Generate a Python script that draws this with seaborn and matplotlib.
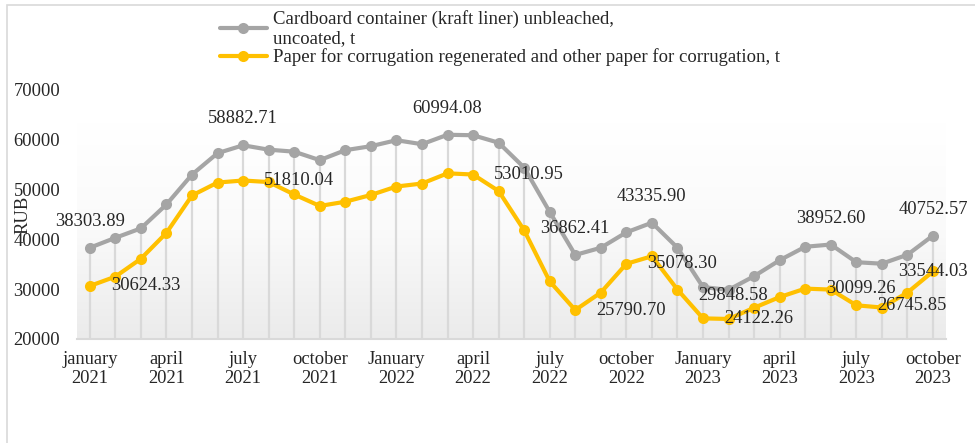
import numpy as np
import pandas as pd
import seaborn as sns
import matplotlib.pyplot as plt
from matplotlib.patches import Rectangle
from matplotlib.colors import LinearSegmentedColormap

# Monthly prices, january 2021 - october 2023 (RUB per t)
months = pd.date_range("2021-01-01", "2023-10-01", freq="MS")
kraft = [38303.89, 40300, 42200, 47000, 53000, 57300, 58882.71, 58000, 57600, 55900,
         57900, 58700, 59900, 59100, 60994.08, 60900, 59400, 54400, 45500, 36862.41,
         38300, 41400, 43335.90, 38300, 30400, 29848.58, 32600, 35800, 38500, 38952.60,
         35400, 35100, 36900, 40752.57]
corrug = [30624.33, 32500, 36100, 41300, 48800, 51400, 51810.04, 51500, 49000, 46700,
          47550, 48900, 50600, 51200, 53250, 53010.95, 49700, 41800, 31550, 25790.70,
          29300, 35078.30, 36600, 29900, 24122.26, 24000, 26250, 28400, 30099.26, 29900,
          26745.85, 26300, 29300, 33544.03]
tick_labels = ["january\n2021", "april\n2021", "july\n2021", "october\n2021",
               "January\n2022", "april\n2022", "july\n2022", "october\n2022",
               "January\n2023", "april\n2023", "july\n2023", "october\n2023"]
name_kraft = "Cardboard container (kraft liner) unbleached,\nuncoated, t"
name_corrug = "Paper for corrugation regenerated and other paper for corrugation, t"

# which points carry a value label, and where
kraft_labels = {0: "above", 6: "above", 14: "above", 19: "above", 22: "above",
                25: "below", 29: "above", 33: "above"}
corrug_labels = {0: "right", 6: "right", 15: "right", 19: "right", 21: "right",
                 24: "right", 28: "right", 30: "right", 33: "center"}

pos = np.arange(len(months))
df = pd.DataFrame({"pos": np.concatenate([pos, pos]),
                   "price": kraft + corrug,
                   "series": [name_kraft] * len(kraft) + [name_corrug] * len(corrug)})

sns.set_style("white")
plt.rcParams['font.family'] = ['Liberation Serif', 'DejaVu Serif']
FS = 13.3

fig = plt.figure(figsize=(9.75, 4.43), dpi=100)
ax = fig.add_axes([0.079, 0.235, 0.891, 0.562])

# gradient plot area: white at the top, light grey at the bottom
cmap = LinearSegmentedColormap.from_list("bg", ["#ffffff", "#fafafa", "#ebebeb"])
grad = np.linspace(0, 1, 200).reshape(-1, 1)
ax.imshow(grad, cmap=cmap, aspect="auto", extent=(-0.5, 33.5, 20000, 63400), zorder=0)

# drop lines
ax.vlines(pos, 20000, np.maximum(kraft, corrug), color="#d9d9d9", lw=1.6, zorder=1)

sns.lineplot(data=df, x="pos", y="price", hue="series", palette=["#a5a5a5", "#ffc000"],
             marker="o", markersize=8, markeredgewidth=0, linewidth=3, ax=ax, zorder=3)

offsets = {"above": (0, 19, "center", "center"), "below": (3, -4, "center", "center"),
           "right": (15, 0, "left", "center"), "center": (0, 0, "center", "center")}
for vals, labs in [(kraft, kraft_labels), (corrug, corrug_labels)]:
    for i, where in labs.items():
        dx, dy, ha, va = offsets[where]
        ax.annotate(f"{vals[i]:.2f}", (pos[i], vals[i]), xytext=(dx, dy),
                    textcoords="offset points", ha=ha, va=va, fontsize=FS, zorder=5)

ax.set_xlim(-0.5, 33.5)
ax.set_ylim(20000, 70000)
ax.set_yticks(range(20000, 70001, 10000))
ax.set_xticks(pos[::3])
ax.set_xticklabels(tick_labels, linespacing=1.1)
ax.tick_params(axis="both", length=0, labelsize=FS)
ax.tick_params(axis="y", pad=12)
ax.tick_params(axis="x", pad=9)
ax.set_xlabel("")
ax.set_ylabel("RUB", fontsize=FS)
ax.yaxis.set_label_coords(-0.052, 0.5)
for s in ["top", "right", "left"]:
    ax.spines[s].set_visible(False)
ax.spines["bottom"].set_color("#d9d9d9")
ax.spines["bottom"].set_linewidth(1.5)
ax.patch.set_alpha(0)

handles, labels = ax.get_legend_handles_labels()
ax.legend(handles, labels, loc="upper left", bbox_to_anchor=(0.218, 0.995),
          bbox_transform=fig.transFigure, frameon=False, fontsize=13.5,
          handlelength=2.5, handletextpad=0.35, labelspacing=0.05, borderaxespad=0)

# chart frame
fig.patches.append(Rectangle((7 / 975, -0.1), 1.1, 1.1 - 5 / 443,
                             transform=fig.transFigure, fill=False,
                             edgecolor="#d9d9d9", lw=1.2))

fig.savefig("out.png", dpi=100)
